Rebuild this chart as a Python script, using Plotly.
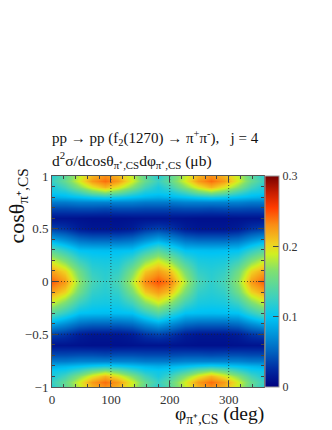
import plotly.graph_objects as go

phi_deg = [0, 22.5, 45, 67.5, 90, 112.5, 135, 157.5, 180, 202.5, 225, 247.5, 270, 292.5, 315, 337.5, 360]
cos_theta = [1.0, 0.95, 0.9, 0.85, 0.8, 0.75, 0.7, 0.6, 0.5, 0.4, 0.3, 0.2, 0.1, 0.0,
             -0.1, -0.2, -0.3, -0.4, -0.5, -0.6, -0.7, -0.75, -0.8, -0.85, -0.9, -0.95, -1.0]
cross_section = [
    [.115, .145, .185, .215, .230, .215, .185, .145, .115, .145, .185, .215, .230, .215, .185, .145, .115],
    [.125, .150, .190, .225, .240, .225, .190, .150, .125, .150, .190, .225, .240, .225, .190, .150, .125],
    [.110, .130, .165, .195, .215, .195, .165, .130, .110, .130, .165, .195, .215, .195, .165, .130, .110],
    [.105, .110, .130, .155, .170, .155, .130, .110, .105, .110, .130, .155, .170, .155, .130, .110, .105],
    [.088, .092, .098, .105, .110, .105, .098, .092, .088, .092, .098, .105, .110, .105, .098, .092, .088],
    [.062, .062, .066, .066, .066, .066, .066, .062, .062, .062, .066, .066, .066, .066, .066, .062, .062],
    [.040, .040, .042, .042, .040, .042, .042, .040, .040, .040, .042, .042, .040, .042, .042, .040, .040],
    [.012, .012, .011, .010, .010, .010, .011, .012, .012, .012, .011, .010, .010, .010, .011, .012, .012],
    [.036, .030, .018, .014, .014, .014, .018, .030, .036, .030, .018, .014, .014, .014, .018, .030, .036],
    [.082, .070, .055, .050, .050, .050, .055, .070, .082, .070, .055, .050, .050, .050, .055, .070, .082],
    [.140, .120, .098, .096, .095, .096, .098, .120, .140, .120, .098, .096, .095, .096, .098, .120, .140],
    [.185, .160, .125, .110, .108, .110, .128, .165, .187, .165, .128, .110, .108, .110, .125, .160, .185],
    [.222, .202, .155, .122, .116, .122, .160, .207, .224, .207, .160, .122, .116, .122, .155, .202, .222],
    [.245, .225, .170, .132, .120, .134, .180, .232, .248, .232, .180, .134, .120, .132, .170, .225, .245],
    [.222, .202, .155, .122, .116, .122, .160, .207, .224, .207, .160, .122, .116, .122, .155, .202, .222],
    [.185, .160, .125, .110, .108, .110, .128, .165, .187, .165, .128, .110, .108, .110, .125, .160, .185],
    [.140, .120, .098, .096, .095, .096, .098, .120, .140, .120, .098, .096, .095, .096, .098, .120, .140],
    [.082, .070, .055, .050, .050, .050, .055, .070, .082, .070, .055, .050, .050, .050, .055, .070, .082],
    [.036, .030, .018, .014, .014, .014, .018, .030, .036, .030, .018, .014, .014, .014, .018, .030, .036],
    [.012, .012, .011, .010, .010, .010, .011, .012, .012, .012, .011, .010, .010, .010, .011, .012, .012],
    [.040, .040, .042, .042, .040, .042, .042, .040, .040, .040, .042, .042, .040, .042, .042, .040, .040],
    [.062, .062, .066, .066, .066, .066, .066, .062, .062, .062, .066, .066, .066, .066, .066, .062, .062],
    [.088, .092, .098, .105, .110, .105, .098, .092, .088, .092, .098, .105, .110, .105, .098, .092, .088],
    [.105, .110, .130, .155, .170, .155, .130, .110, .105, .110, .130, .155, .170, .155, .130, .110, .105],
    [.110, .130, .165, .195, .215, .195, .165, .130, .110, .130, .165, .195, .215, .195, .165, .130, .110],
    [.125, .150, .190, .225, .240, .225, .190, .150, .125, .150, .190, .225, .240, .225, .190, .150, .125],
    [.115, .145, .185, .215, .230, .215, .185, .145, .115, .145, .185, .215, .230, .215, .185, .145, .115],
]
x_ticks = [0, 100, 200, 300]
y_ticks = [-1, -0.5, 0, 0.5, 1]
y_tick_labels = ["\u22121", "\u22120.5", "0", "0.5", "1"]
z_ticks = [0, 0.1, 0.2, 0.3]
palette = [
    [0.0, "#00007f"], [0.08, "#0028a0"], [0.17, "#0064c0"], [0.33, "#00c4f4"],
    [0.42, "#3cd0c0"], [0.55, "#80e070"], [0.63, "#d0f020"], [0.68, "#f0d020"],
    [0.77, "#fa8c14"], [0.85, "#ff3c00"], [0.92, "#c81e00"], [1.0, "#780000"],
]
FONT = "Liberation Serif"
INK = "#333333"
L, R, T, B = 52, 264.5, 175.5, 387
W, H = 332, 430

fig = go.Figure()
fig.add_trace(go.Heatmap(
    x=phi_deg, y=cos_theta, z=cross_section, zmin=0, zmax=0.3, zsmooth="best",
    colorscale=palette, hoverinfo="skip",
    colorbar=dict(
        x=(266 - L) / (R - L), xanchor="left", y=0, yanchor="bottom",
        len=1, lenmode="fraction", thickness=14, thicknessmode="pixels",
        xpad=0, ypad=0, outlinewidth=1, outlinecolor="#999999",
        ticks="inside", ticklen=6, tickwidth=1, tickcolor="#444444",
        tickvals=z_ticks, ticktext=["0", "0.1", "0.2", "0.3"],
        tickfont=dict(family=FONT, size=12, color=INK),
    ),
))
for v in x_ticks[1:]:
    fig.add_trace(go.Scatter(x=[v, v], y=[-1, 1], mode="lines", hoverinfo="skip", showlegend=False,
                             line=dict(color="#222222", width=0.7, dash="1px,2px")))
for v in y_ticks[1:-1]:
    fig.add_trace(go.Scatter(x=[0, 360], y=[v, v], mode="lines", hoverinfo="skip", showlegend=False,
                             line=dict(color="#222222", width=0.7, dash="1px,2px")))

axis = dict(showgrid=False, zeroline=False, showline=True, linecolor="#555555", linewidth=1,
            mirror="allticks", ticks="inside", ticklen=6, tickwidth=1, tickcolor="#444444",
            tickfont=dict(family=FONT, size=13, color=INK))
fig.update_layout(
    width=W, height=H, margin=dict(l=L, r=W - R, t=T, b=H - B),
    paper_bgcolor="white", plot_bgcolor="white", showlegend=False,
    xaxis=dict(axis, range=[0, 360], tickvals=x_ticks, ticktext=[str(v) for v in x_ticks],
               minor=dict(dtick=20, ticks="inside", ticklen=3, tickwidth=1, tickcolor="#444444")),
    yaxis=dict(axis, range=[-1, 1], tickvals=y_ticks, ticktext=y_tick_labels,
               minor=dict(dtick=0.1, ticks="inside", ticklen=3, tickwidth=1, tickcolor="#444444")),
)
def note(text, x, y, size, **kw):
    fig.add_annotation(text=text, xref="paper", yref="paper",
                       x=(x - L) / (R - L), y=(B - y) / (B - T), showarrow=False,
                       font=dict(family=FONT, size=size, color="#111111"),
                       xanchor=kw.pop("xanchor", "left"), yanchor=kw.pop("yanchor", "middle"), **kw)
note("pp \u2192 pp (f<sub>2</sub>(1270) \u2192 \u03c0<sup>+</sup>\u03c0<sup>-</sup>),   j = 4", 50, 137, 15)
note("d<sup>2</sup>\u03c3/dcos\u03b8<sub>\u03c0\u207a,CS</sub>d\u03c6<sub>\u03c0\u207a,CS</sub> (\u03bcb)", 50, 159, 15.5)
note("cos\u03b8<sub>\u03c0\u207a,CS</sub>", 18, 206, 22, textangle=-90, xanchor="center")
note("\u03c6<sub>\u03c0\u207a,CS</sub> (deg)", 267, 415, 19.5, xanchor="right")

fig.write_html("out.html", post_script="document.body.style.margin='0';",
               config=dict(displayModeBar=False))
